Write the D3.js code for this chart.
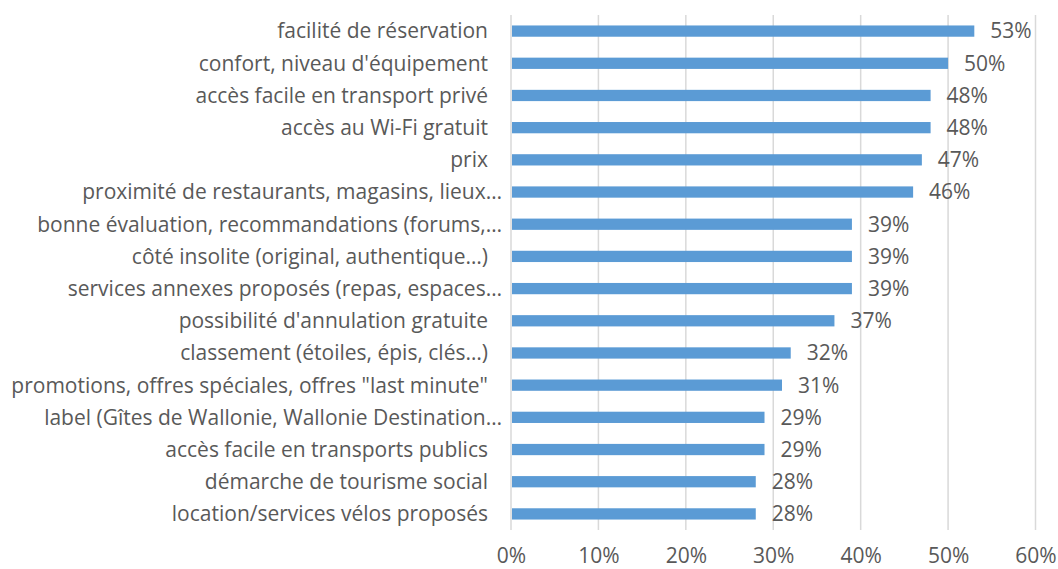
<!DOCTYPE html>
<html>
<head>
<meta charset="utf-8">
<script src="https://cdn.jsdelivr.net/npm/d3@7"></script>
<style>
  body { margin: 0; background: #fff; }
  text { font-family: "Open Sans", sans-serif; fill: #595959; }
</style>
</head>
<body>
<div id="chart"></div>
<script>
// Data
const categories = [
    "facilité de réservation",
    "confort, niveau d'équipement",
    "accès facile en transport privé",
    "accès au Wi-Fi gratuit",
    "prix",
    "proximité de restaurants, magasins, lieux…",
    "bonne évaluation, recommandations (forums,…",
    "côté insolite (original, authentique…)",
    "services annexes proposés (repas, espaces…",
    "possibilité d'annulation gratuite",
    "classement (étoiles, épis, clés…)",
    "promotions, offres spéciales, offres \"last minute\"",
    "label (Gîtes de Wallonie, Wallonie Destination…",
    "accès facile en transports publics",
    "démarche de tourisme social",
    "location/services vélos proposés"
];
const values = [0.53, 0.50, 0.48, 0.48, 0.47, 0.46, 0.39, 0.39, 0.39, 0.37, 0.32, 0.31, 0.29, 0.29, 0.28, 0.28];
const xTicks = [0, 0.1, 0.2, 0.3, 0.4, 0.5, 0.6];

const width = 1058, height = 569;
const plot = { left: 511, right: 1035.5, top: 15, bottom: 530 };
const fontSize = "21px";

const svg = d3.select("#chart")
    .append("svg")
    .attr("width", width)
    .attr("height", height);

const x = d3.scaleLinear()
    .domain([0, 0.6])
    .range([plot.left, plot.right]);

const y = d3.scaleBand()
    .domain(categories)
    .range([plot.top, plot.bottom])
    .paddingInner(0.65)
    .paddingOuter(0.325);

// vertical gridlines
svg.append("g")
    .selectAll("line")
    .data(xTicks)
    .join("line")
    .attr("x1", d => x(d))
    .attr("x2", d => x(d))
    .attr("y1", plot.top)
    .attr("y2", plot.bottom)
    .attr("stroke", "#d9d9d9")
    .attr("stroke-width", 1.5);

// bars
svg.append("g")
    .selectAll("rect")
    .data(values)
    .join("rect")
    .attr("x", x(0) + 1)
    .attr("y", (d, i) => y(categories[i]))
    .attr("width", d => x(d) - x(0) - 1)
    .attr("height", y.bandwidth())
    .attr("fill", "#5b9bd5");

// value labels
svg.append("g")
    .selectAll("text")
    .data(values)
    .join("text")
    .attr("x", d => x(d) + 16)
    .attr("y", (d, i) => y(categories[i]) + y.bandwidth() / 2)
    .attr("dy", "0.35em")
    .style("font-size", fontSize)
    .text(d => d3.format(".0%")(d));

// category labels (Excel leaves a gap after untruncated labels)
svg.append("g")
    .selectAll("text")
    .data(categories)
    .join("text")
    .attr("x", d => d.endsWith("…") ? 502 : 488)
    .attr("y", d => y(d) + y.bandwidth() / 2)
    .attr("dy", "0.35em")
    .attr("text-anchor", "end")
    .style("font-size", fontSize)
    .text(d => d);

// x axis
const xAxis = svg.append("g")
    .attr("transform", `translate(0,${plot.bottom})`)
    .call(d3.axisBottom(x).tickValues(xTicks).tickFormat(d3.format(".0%")).tickSize(0).tickPadding(18));
xAxis.select(".domain").remove();
xAxis.selectAll("text")
    .style("font-size", fontSize)
    .style("font-family", "'Open Sans', sans-serif")
    .attr("fill", "#595959");
</script>
</body>
</html>
